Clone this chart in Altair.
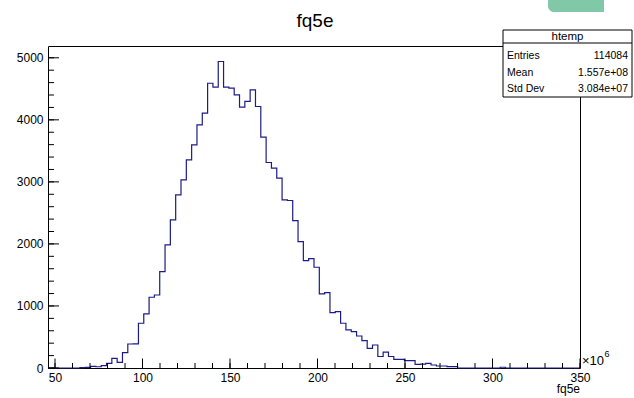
import altair as alt
import pandas as pd

# ---- data ----
x_lo, x_hi, n_bins = 46.0, 350.0, 100
counts = [
    0, 0, 0, 0, 0, 0, 5, 10, 25, 20,
    37, 75, 155, 91, 247, 387, 390, 721, 871, 1140,
    1177, 1553, 1984, 2387, 2790, 3032, 3355, 3597, 3919, 4108,
    4590, 4527, 4940, 4527, 4511, 4403, 4204, 4296, 4484, 4215,
    3720, 3312, 3221, 3060, 2710, 2700, 2376, 2038, 1731, 1763,
    1624, 1194, 1215, 892, 908, 721, 613, 586, 516, 440,
    317, 371, 185, 255, 185, 140, 140, 118, 118, 59,
    64, 75, 48, 32, 32, 21, 21, 0, 0, 0,
    0, 0, 0, 0, 0, 12, 0, 0, 0, 0,
    0, 0, 0, 0, 0, 0, 0, 0, 0, 0,
]
x_major = [50, 100, 150, 200, 250, 300, 350]
x_minor = [50, 60, 70, 80, 90, 100, 110, 120, 130, 140, 150, 160, 170, 180, 190, 200,
           210, 220, 230, 240, 250, 260, 270, 280, 290, 300, 310, 320, 330, 340, 350]
y_major = [0, 1000, 2000, 3000, 4000, 5000]
y_minor = [0, 200, 400, 600, 800, 1000, 1200, 1400, 1600, 1800, 2000, 2200, 2400, 2600,
           2800, 3000, 3200, 3400, 3600, 3800, 4000, 4200, 4400, 4600, 4800, 5000]
y_max = 5190
stats_names = ["Entries", "Mean", "Std Dev"]
stats_values = ["114084", "1.557e+08", "3.084e+07"]
hist_name = "htemp"
title_text = "fq5e"

FONT = "Liberation Sans"
W, H = 532, 322

bw = (x_hi - x_lo) / n_bins
edges = [x_lo + bw * i for i in range(n_bins + 1)]
hist = pd.DataFrame({"x": edges, "y": counts + [counts[-1]]})

xs = alt.Scale(domain=[x_lo, x_hi], nice=False, zero=False)
ys = alt.Scale(domain=[0, y_max], nice=False, zero=True)

x_axis = alt.Axis(
    values=x_major, ticks=False, domain=False, grid=False, title=None, format="d",
    labelFont=FONT, labelFontSize=12, labelColor="black", labelPadding=4,
    labelFlush=False, labelOverlap=False)
y_axis = alt.Axis(
    values=y_major, ticks=False, domain=False, grid=False, title=None, format="d",
    labelFont=FONT, labelFontSize=12, labelColor="black", labelPadding=5,
    labelFlush=False, labelOverlap=False)

line = alt.Chart(hist).mark_line(
    interpolate="step-after", color="#1c1c86", strokeWidth=1.2
).encode(
    x=alt.X("x:Q", scale=xs, axis=x_axis),
    y=alt.Y("y:Q", scale=ys, axis=y_axis),
)

def xticks(vals, length):
    return alt.Chart(pd.DataFrame({"x": vals})).mark_rule(color="black", strokeWidth=1).encode(
        x=alt.X("x:Q", scale=xs, axis=x_axis),
        y=alt.value(H), y2=alt.value(H - length))

def yticks(vals, length):
    return alt.Chart(pd.DataFrame({"y": vals})).mark_rule(color="black", strokeWidth=1).encode(
        y=alt.Y("y:Q", scale=ys, axis=y_axis),
        x=alt.value(0), x2=alt.value(length))

one = pd.DataFrame({"a": [0]})

def txt(text, x, y, size=11, align="left", baseline="middle"):
    return alt.Chart(one).mark_text(
        text=text, font=FONT, fontSize=size, align=align, baseline=baseline, color="black"
    ).encode(x=alt.value(x), y=alt.value(y))

# stats box
box = alt.Chart(one).mark_rect(fill="white", stroke="black", strokeWidth=1).encode(
    x=alt.value(455), x2=alt.value(584), y=alt.value(-16), y2=alt.value(51))
box_line = alt.Chart(one).mark_rule(color="black", strokeWidth=1).encode(
    x=alt.value(455), x2=alt.value(584), y=alt.value(-3))

green = alt.Chart(one).mark_rect(color="#80c8a8", cornerRadiusBottomLeft=6).encode(
    x=alt.value(500), x2=alt.value(556), y=alt.value(-46), y2=alt.value(-34))

layers = [line,
          xticks(x_minor, 5), xticks(x_major, 9.5),
          yticks(y_minor, 6), yticks(y_major, 11),
          green, box, box_line,
          txt(hist_name, 519.5, -9.5, size=11.5, align="center"),
          txt(title_text, 267, -19, size=19, align="center", baseline="alphabetic"),
          txt("\u00d710", 534, 319, size=13, baseline="alphabetic"),
          txt("6", 556.5, 311, size=9, baseline="alphabetic"),
          txt(title_text, 532, 347, size=12, align="right", baseline="alphabetic")]
row_y = [10, 26.5, 43]
for name, val, yy in zip(stats_names, stats_values, row_y):
    layers.append(txt(name, 459, yy, size=10.5))
    layers.append(txt(val, 580, yy, size=10.5, align="right"))

chart = alt.layer(*layers).properties(
    width=W, height=H,
    autosize=alt.AutoSizeParams(type="none"),
    padding={"left": 48, "top": 46, "right": 54, "bottom": 30},
    background="white",
).configure_view(stroke="black", strokeWidth=1)

chart.save("out.html", embed_options={"renderer": "svg", "actions": False})
